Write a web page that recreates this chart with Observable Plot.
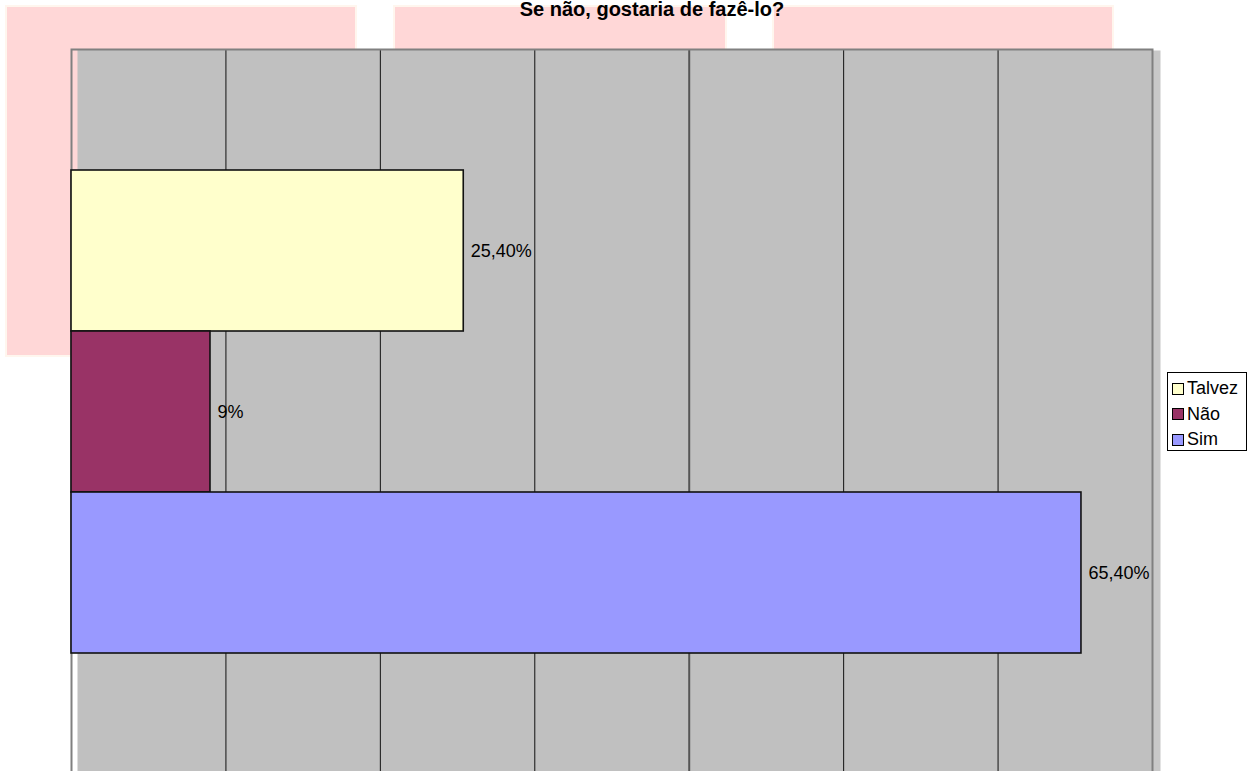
<!DOCTYPE html>
<html>
<head>
<meta charset="utf-8">
<script src="https://cdn.jsdelivr.net/npm/d3@7"></script>
<script src="https://cdn.jsdelivr.net/npm/@observablehq/plot@0.6"></script>
<style>
  html, body { margin: 0; padding: 0; background: #fff; overflow: hidden; width: 1260px; height: 771px; }
  body { position: relative; font-family: "Liberation Sans", Arial, sans-serif; }
  .pink { position: absolute; background: #ffd7d7; box-shadow: 0 0 0 2px #fff6ee; }
  #chart { position: absolute; left: 0; top: 0; }
  #title { position: absolute; left: 652px; top: -1px; transform: translateX(-50%); font: bold 20px/21px "Liberation Sans", Arial, sans-serif; color: #000; white-space: nowrap; }
  #legend { position: absolute; left: 1167px; top: 372px; width: 80px; height: 79px; box-sizing: border-box; border: 1px solid #000; background: #fff; padding: 3px 0 0 4px; }
  .item { display: flex; align-items: center; height: 25.5px; font-size: 18px; color: #000; }
  .sw { width: 10px; height: 10px; border: 1.5px solid #000; margin-right: 3px; }
</style>
</head>
<body>
<div class="pink" style="left:7px;top:7px;width:348px;height:348px"></div>
<div class="pink" style="left:395px;top:7px;width:330px;height:200px"></div>
<div class="pink" style="left:774px;top:7px;width:338px;height:200px"></div>
<div id="chart"></div>
<div id="title">Se não, gostaria de fazê-lo?</div>
<div id="legend"></div>
<script>
const categories = ["Talvez", "Não", "Sim"];
const values = [0.254, 0.09, 0.654];
const valueLabels = ["25,40%", "9%", "65,40%"];
const colors = ["#ffffcc", "#993366", "#9999ff"];
const gridTicks = [0.1, 0.2, 0.3, 0.4, 0.5, 0.6];
const xMax = 0.7;

const data = categories.map((c, i) => ({cat: c, value: values[i], label: valueLabels[i]}));

const chart = Plot.plot({
  width: 1260,
  height: 800,
  marginLeft: 71,
  marginRight: 108,
  marginTop: 49,
  marginBottom: 26,
  style: {fontFamily: '"Liberation Sans", Arial, sans-serif', background: "transparent", overflow: "visible"},
  x: {domain: [0, xMax], axis: null},
  y: {domain: categories, axis: null, paddingInner: 0, paddingOuter: 0.75},
  color: {domain: categories, range: colors},
  marks: [
    Plot.frame({fill: "#c8c8c8", insetLeft: 1070, insetRight: -8, insetTop: 1}),
    Plot.frame({fill: "#c0c0c0", insetLeft: 6}),
    Plot.ruleX(gridTicks, {stroke: d => Math.abs(d - 0.4) < 1e-9 ? "#555" : "#111", strokeWidth: d => Math.abs(d - 0.4) < 1e-9 ? 2 : 1}),
    Plot.frame({stroke: "#808080", strokeWidth: 2}),
    Plot.barX(data, {x: "value", y: "cat", fill: "cat", stroke: "#111", strokeWidth: 1.6}),
    Plot.text(data, {x: "value", y: "cat", text: "label", dx: 7, textAnchor: "start", fontSize: 18, fill: "#000"})
  ]
});
document.getElementById("chart").appendChild(chart);

const legend = document.getElementById("legend");
categories.forEach((c, i) => {
  const row = document.createElement("div");
  row.className = "item";
  const sw = document.createElement("span");
  sw.className = "sw";
  sw.style.background = colors[i];
  const t = document.createElement("span");
  t.textContent = c;
  row.appendChild(sw);
  row.appendChild(t);
  legend.appendChild(row);
});
</script>
</body>
</html>
